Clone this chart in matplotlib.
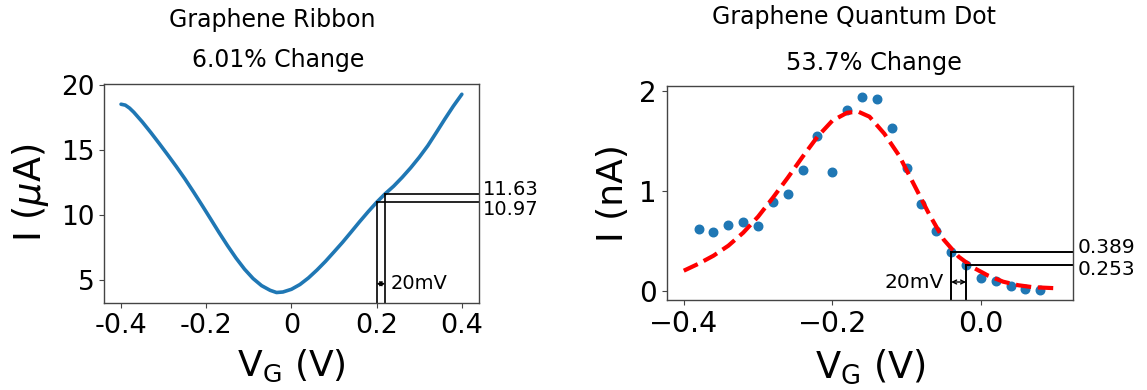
import matplotlib
matplotlib.use("Agg")
import matplotlib.pyplot as plt

plt.rcParams['font.family'] = ['DejaVu Sans']
plt.rcParams['mathtext.fontset'] = 'dejavusans'

# ---------------- data: Graphene Ribbon ----------------
ribbon_vg = [-0.40, -0.39, -0.38, -0.37, -0.35, -0.33, -0.31, -0.29, -0.27, -0.25,
             -0.23, -0.21, -0.19, -0.17, -0.15, -0.13, -0.11, -0.09, -0.07, -0.05,
             -0.035, -0.02, 0.00, 0.02, 0.04, 0.06, 0.08, 0.10, 0.12, 0.14,
             0.16, 0.18, 0.20, 0.22, 0.24, 0.26, 0.28, 0.30, 0.32, 0.34,
             0.36, 0.38, 0.40]
ribbon_i = [18.55, 18.48, 18.25, 17.93, 17.18, 16.36, 15.50, 14.62, 13.72, 12.78,
            11.78, 10.75, 9.70, 8.64, 7.62, 6.66, 5.80, 5.08, 4.53, 4.17,
            4.00, 4.04, 4.25, 4.62, 5.13, 5.74, 6.41, 7.14, 7.88, 8.67,
            9.47, 10.24, 10.97, 11.63, 12.22, 12.90, 13.64, 14.45, 15.34, 16.36,
            17.40, 18.40, 19.32]
ribbon_marks_v = [0.20, 0.22]
ribbon_marks_i = [10.97, 11.63]
ribbon_labels = ['10.97', '11.63']
ribbon_xticks = [-0.4, -0.2, 0, 0.2, 0.4]
ribbon_xticklabels = ['-0.4', '-0.2', '0', '0.2', '0.4']
ribbon_yticks = [5, 10, 15, 20]

# ---------------- data: Graphene Quantum Dot ----------------
qd_vg = [-0.38, -0.36, -0.34, -0.32, -0.30, -0.28, -0.26, -0.24, -0.22, -0.20,
         -0.18, -0.16, -0.14, -0.12, -0.10, -0.08, -0.06, -0.04, -0.02, 0.00,
         0.02, 0.04, 0.06, 0.08]
qd_i = [0.62, 0.584, 0.66, 0.69, 0.647, 0.887, 0.963, 1.207, 1.55, 1.183,
        1.81, 1.94, 1.917, 1.624, 1.224, 0.864, 0.597, 0.389, 0.253, 0.124,
        0.097, 0.047, 0.02, 0.007]
fit_vg = [-0.40, -0.38, -0.36, -0.34, -0.32, -0.30, -0.28, -0.26, -0.24, -0.22,
          -0.20, -0.18, -0.165, -0.15, -0.13, -0.11, -0.09, -0.07, -0.05, -0.03,
          -0.01, 0.01, 0.03, 0.05, 0.07, 0.10]
fit_i = [0.20, 0.27, 0.35, 0.45, 0.58, 0.74, 0.93, 1.13, 1.34, 1.54,
         1.70, 1.78, 1.79, 1.74, 1.57, 1.35, 1.06, 0.77, 0.51, 0.34,
         0.23, 0.15, 0.09, 0.055, 0.035, 0.025]
qd_marks_v = [-0.04, -0.02]
qd_marks_i = [0.389, 0.253]
qd_labels = ['0.389', '0.253']
qd_yticks = [0, 1, 2]

W, H = 1147, 390
fig = plt.figure(figsize=(W / 100, H / 100), dpi=100)
fig.patch.set_facecolor('white')

ax1 = fig.add_axes([104 / W, 1 - 303 / H, 375.3 / W, (303 - 84.3) / H])
ax2 = fig.add_axes([666.7 / W, 1 - 300 / H, 406.3 / W, (300 - 85.7) / H])

blue = '#1f77b4'
for ax in (ax1, ax2):
    for s in ax.spines.values():
        s.set_color('#444444')
        s.set_linewidth(1.0)
    ax.tick_params(color='#444444')

# ---- left panel ----
ax1.plot(ribbon_vg, ribbon_i, color=blue, lw=2.6, solid_capstyle='round',
         solid_joinstyle='round')
ax1.set_xlim(-0.44, 0.441)
ax1.set_ylim(3.19, 20.09)
ax1.set_xticks(ribbon_xticks)
ax1.set_xticklabels(ribbon_xticklabels)
ax1.set_yticks(ribbon_yticks)
ax1.tick_params(axis='x', labelsize=19.5)
ax1.tick_params(axis='y', labelsize=19)
x_right = ax1.get_xlim()[1]
y_bot = ax1.get_ylim()[0]
for v, i in zip(ribbon_marks_v, ribbon_marks_i):
    ax1.plot([v, v], [y_bot, i], color='black', lw=1.2, clip_on=False)
    ax1.plot([v, x_right], [i, i], color='black', lw=1.2, clip_on=False)
offs1 = {'10.97': -5, '11.63': 3}
for lab, i in zip(ribbon_labels, ribbon_marks_i):
    ax1.annotate(lab, xy=(1, i), xycoords=('axes fraction', 'data'),
                 xytext=(2.5, offs1[lab]), textcoords='offset points',
                 ha='left', va='center', fontsize=14, annotation_clip=False)
ax1.annotate('', xy=(ribbon_marks_v[1], 4.68), xytext=(ribbon_marks_v[0], 4.68),
             arrowprops=dict(arrowstyle='<->', color='black', lw=1.0,
                             mutation_scale=7, shrinkA=0, shrinkB=0))
ax1.text(0.233, 4.68, '20mV', ha='left', va='center', fontsize=14)
ax1.set_xlabel(r'V$_\mathregular{G}$ (V)', fontsize=26)
ax1.xaxis.label.set_va('baseline')
ax1.xaxis.set_label_coords(0.5, (303 - 376) / 218.7)
ax1.set_ylabel(r'I ($\mu$A)', fontsize=26.5)
ax1.yaxis.label.set_va('baseline')
ax1.yaxis.set_label_coords((40.7 - 104) / 375.3, 0.505)

# ---- right panel ----
ax2.scatter(qd_vg, qd_i, color=blue, s=38)
ax2.plot(fit_vg, fit_i, color='red', ls='--', lw=3.0)
ax2.set_xlim(-0.423, 0.124)
ax2.set_ylim(-0.093, 2.05)
ax2.set_yticks(qd_yticks)
ax2.tick_params(axis='x', labelsize=20.5)
ax2.tick_params(axis='y', labelsize=20)
x_right2 = ax2.get_xlim()[1]
y_bot2 = ax2.get_ylim()[0]
for v, i in zip(qd_marks_v, qd_marks_i):
    ax2.plot([v, v], [y_bot2, i], color='black', lw=1.4, clip_on=False)
    ax2.plot([v, x_right2], [i, i], color='black', lw=1.4, clip_on=False)
offs2 = {'0.389': 3, '0.253': -3}
for lab, i in zip(qd_labels, qd_marks_i):
    ax2.annotate(lab, xy=(1, i), xycoords=('axes fraction', 'data'),
                 xytext=(3, offs2[lab]), textcoords='offset points',
                 ha='left', va='center', fontsize=14.5, annotation_clip=False)
ax2.annotate('', xy=(qd_marks_v[1], 0.087), xytext=(qd_marks_v[0], 0.087),
             arrowprops=dict(arrowstyle='<->', color='black', lw=1.0,
                             mutation_scale=7, shrinkA=0, shrinkB=0))
ax2.text(-0.0505, 0.087, '20mV', ha='right', va='center', fontsize=14.5)
ax2.set_xlabel(r'V$_\mathregular{G}$ (V)', fontsize=26.5)
ax2.xaxis.label.set_va('baseline')
ax2.xaxis.set_label_coords((870 - 666.7) / 406.3, (300 - 378) / 214.3)
ax2.set_ylabel('I (nA)', fontsize=26)
ax2.yaxis.label.set_va('baseline')
ax2.yaxis.set_label_coords((623.3 - 666.7) / 406.3, 0.5)

# ---- titles ----
fig.text(272.5 / W, 1 - 27.3 / H, 'Graphene Ribbon', ha='center', va='baseline', fontsize=17)
fig.text(278 / W, 1 - 66.7 / H, '6.01% Change', ha='center', va='baseline', fontsize=17)
fig.text(854 / W, 1 - 24 / H, 'Graphene Quantum Dot', ha='center', va='baseline', fontsize=17)
fig.text(874 / W, 1 - 70 / H, '53.7% Change', ha='center', va='baseline', fontsize=17.3)

fig.savefig('out.png', dpi=100, facecolor='white')
